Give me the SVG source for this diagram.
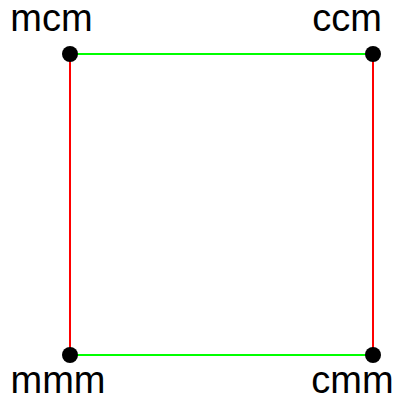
<svg xmlns="http://www.w3.org/2000/svg" width="400" height="398" viewBox="0 0 400 398">
<style>
.lbl{font-family:"Liberation Sans",Arial,sans-serif;font-size:38px;fill:#000;text-anchor:middle}
.dot{fill:#000}
.g{stroke:#00ff00;stroke-width:2;fill:none}
.r{stroke:#ff0000;stroke-width:2;fill:none}
</style>
<rect width="400" height="398" fill="#fff"/>
<g id="connectors">
<line class="g" x1="70" y1="54" x2="373" y2="54"/>
<line class="g" x1="70" y1="355" x2="373" y2="355"/>
<line class="r" x1="70" y1="54" x2="70" y2="355"/>
<line class="r" x1="373" y1="54" x2="373" y2="355"/>
</g>
<g id="mcm"><circle class="dot" cx="70" cy="54" r="8"/><text class="lbl" x="51.5" y="31">mcm</text></g>
<g id="ccm"><circle class="dot" cx="373" cy="54" r="8"/><text class="lbl" x="347" y="31">ccm</text></g>
<g id="mmm"><circle class="dot" cx="70" cy="355" r="8"/><text class="lbl" x="58" y="393">mmm</text></g>
<g id="cmm"><circle class="dot" cx="373" cy="355" r="8"/><text class="lbl" x="352.5" y="393">cmm</text></g>
</svg>
